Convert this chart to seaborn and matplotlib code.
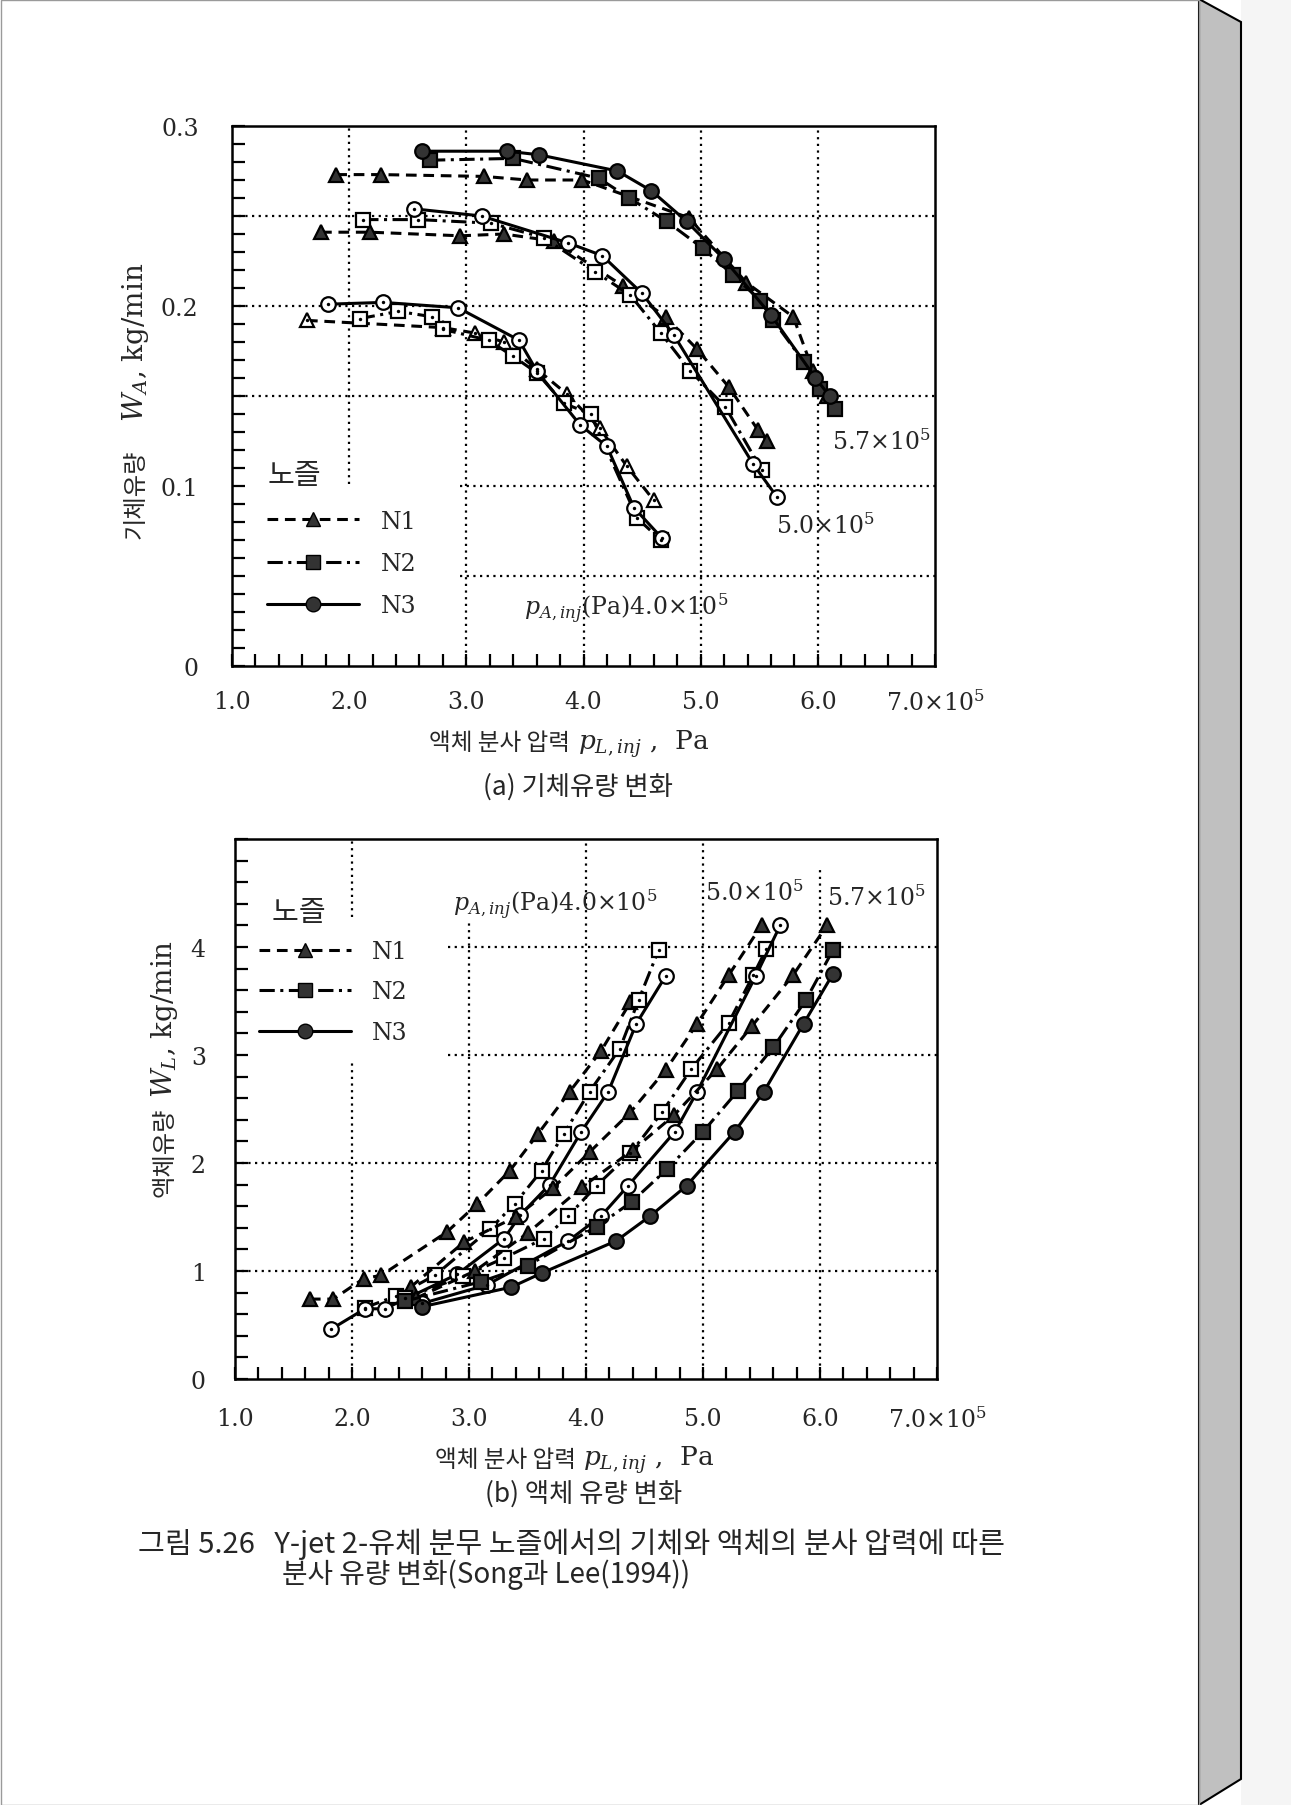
import pandas as pd
import seaborn as sns
import matplotlib.pyplot as plt
from matplotlib.lines import Line2D
from matplotlib.patches import Polygon, Rectangle

sns.set_style("ticks")
plt.rcParams["font.family"] = ["DejaVu Serif", "Noto Sans CJK KR"]
plt.rcParams["mathtext.fontset"] = "dejavuserif"
KR = ["Noto Sans CJK KR", "DejaVu Sans"]

# ---- (a) gas flow rate W_A [kg/min] vs liquid injection pressure [x1e5 Pa]
# p_A,inj = 4.0e5 Pa
a40_n1_x = [1.64, 2.80, 3.07, 3.32, 3.60, 3.86, 4.14, 4.37, 4.60]
a40_n1_y = [0.192, 0.188, 0.185, 0.180, 0.165, 0.151, 0.132, 0.111, 0.092]
a40_n2_x = [2.09, 2.42, 2.71, 2.80, 3.19, 3.40, 3.60, 3.83, 4.06, 4.46, 4.66]
a40_n2_y = [0.193, 0.197, 0.194, 0.187, 0.181, 0.172, 0.163, 0.146, 0.140, 0.082, 0.070]
a40_n3_x = [1.82, 2.29, 2.93, 3.45, 3.60, 3.97, 4.20, 4.43, 4.67]
a40_n3_y = [0.201, 0.202, 0.199, 0.181, 0.164, 0.134, 0.122, 0.088, 0.071]
# p_A,inj = 5.0e5 Pa
a50_n1_x = [1.76, 2.18, 2.95, 3.32, 3.75, 4.34, 4.70, 4.97, 5.24, 5.49, 5.57]
a50_n1_y = [0.241, 0.241, 0.239, 0.240, 0.236, 0.211, 0.194, 0.176, 0.155, 0.131, 0.125]
a50_n2_x = [2.12, 2.59, 3.21, 3.66, 4.10, 4.40, 4.66, 4.91, 5.21, 5.52]
a50_n2_y = [0.248, 0.248, 0.246, 0.238, 0.219, 0.206, 0.185, 0.164, 0.144, 0.109]
a50_n3_x = [2.55, 3.13, 3.87, 4.16, 4.50, 4.77, 5.45, 5.65]
a50_n3_y = [0.254, 0.250, 0.235, 0.228, 0.207, 0.184, 0.112, 0.094]
# p_A,inj = 5.7e5 Pa
a57_n1_x = [1.89, 2.27, 3.15, 3.52, 3.99, 4.90, 5.39, 5.79, 5.96, 6.08]
a57_n1_y = [0.273, 0.273, 0.272, 0.270, 0.270, 0.249, 0.213, 0.194, 0.164, 0.150]
a57_n2_x = [2.69, 3.40, 4.13, 4.39, 4.71, 5.02, 5.28, 5.51, 5.62, 5.88, 6.02, 6.15]
a57_n2_y = [0.281, 0.282, 0.271, 0.260, 0.247, 0.232, 0.217, 0.203, 0.192, 0.169, 0.154, 0.143]
a57_n3_x = [2.62, 3.35, 3.62, 4.29, 4.58, 4.88, 5.20, 5.60, 5.98, 6.10]
a57_n3_y = [0.286, 0.286, 0.284, 0.275, 0.264, 0.247, 0.226, 0.195, 0.160, 0.150]

# ---- (b) liquid flow rate W_L [kg/min]
b40_n1_x = [1.64, 1.84, 2.10, 2.25, 2.81, 3.07, 3.35, 3.59, 3.86, 4.13, 4.38]
b40_n1_y = [0.74, 0.74, 0.93, 0.96, 1.36, 1.62, 1.93, 2.27, 2.66, 3.04, 3.49]
b40_n2_x = [2.11, 2.38, 2.71, 3.18, 3.39, 3.62, 3.81, 4.03, 4.29, 4.45, 4.62]
b40_n2_y = [0.66, 0.77, 0.96, 1.39, 1.62, 1.93, 2.27, 2.66, 3.06, 3.51, 3.97]
b40_n3_x = [1.82, 2.11, 2.28, 2.90, 3.30, 3.44, 3.69, 3.96, 4.19, 4.43, 4.68]
b40_n3_y = [0.46, 0.65, 0.65, 0.97, 1.30, 1.52, 1.80, 2.29, 2.66, 3.29, 3.73]
b50_n1_x = [2.50, 2.96, 3.40, 3.72, 4.03, 4.38, 4.68, 4.95, 5.22, 5.50]
b50_n1_y = [0.85, 1.27, 1.50, 1.77, 2.10, 2.47, 2.86, 3.29, 3.74, 4.20]
b50_n2_x = [2.45, 2.95, 3.30, 3.64, 3.85, 4.09, 4.38, 4.65, 4.90, 5.22, 5.43, 5.54]
b50_n2_y = [0.75, 0.95, 1.12, 1.30, 1.51, 1.79, 2.09, 2.47, 2.87, 3.30, 3.74, 3.98]
b50_n3_x = [2.60, 3.15, 3.85, 4.13, 4.36, 4.76, 4.95, 5.45, 5.66]
b50_n3_y = [0.70, 0.87, 1.28, 1.51, 1.79, 2.29, 2.66, 3.73, 4.20]
b57_n1_x = [2.55, 3.05, 3.50, 3.97, 4.40, 4.75, 5.12, 5.42, 5.77, 6.06]
b57_n1_y = [0.75, 1.00, 1.35, 1.78, 2.12, 2.44, 2.87, 3.27, 3.74, 4.20]
b57_n2_x = [2.45, 3.10, 3.50, 4.09, 4.39, 4.69, 5.00, 5.30, 5.60, 5.88, 6.11]
b57_n2_y = [0.72, 0.90, 1.05, 1.41, 1.64, 1.94, 2.29, 2.67, 3.07, 3.51, 3.97]
b57_n3_x = [2.60, 3.36, 3.62, 4.26, 4.55, 4.86, 5.27, 5.52, 5.86, 6.11]
b57_n3_y = [0.67, 0.85, 0.98, 1.28, 1.51, 1.79, 2.29, 2.66, 3.29, 3.75]

nozzles = ["N1", "N2", "N3"]
x_ticks = [1, 2, 3, 4, 5, 6, 7]
x_labels = ["1.0", "2.0", "3.0", "4.0", "5.0", "6.0", "7.0×10$^5$"]
a_yticks = [0, 0.1, 0.2, 0.3]
a_ylabels = ["0", "0.1", "0.2", "0.3"]
b_yticks = [0, 1, 2, 3, 4]
b_ylabels = ["0", "1", "2", "3", "4"]

# which markers are printed solid (others are open)
a_filled = {"4.0": [False, False, False], "5.0": [True, False, False], "5.7": [True, True, True]}
b_filled = {"4.0": [True, False, False], "5.0": [True, False, False], "5.7": [True, True, True]}

rows = []
for chart, grp, noz, xs, ys in [
    ("a", "4.0", "N1", a40_n1_x, a40_n1_y), ("a", "4.0", "N2", a40_n2_x, a40_n2_y),
    ("a", "4.0", "N3", a40_n3_x, a40_n3_y), ("a", "5.0", "N1", a50_n1_x, a50_n1_y),
    ("a", "5.0", "N2", a50_n2_x, a50_n2_y), ("a", "5.0", "N3", a50_n3_x, a50_n3_y),
    ("a", "5.7", "N1", a57_n1_x, a57_n1_y), ("a", "5.7", "N2", a57_n2_x, a57_n2_y),
    ("a", "5.7", "N3", a57_n3_x, a57_n3_y),
    ("b", "4.0", "N1", b40_n1_x, b40_n1_y), ("b", "4.0", "N2", b40_n2_x, b40_n2_y),
    ("b", "4.0", "N3", b40_n3_x, b40_n3_y), ("b", "5.0", "N1", b50_n1_x, b50_n1_y),
    ("b", "5.0", "N2", b50_n2_x, b50_n2_y), ("b", "5.0", "N3", b50_n3_x, b50_n3_y),
    ("b", "5.7", "N1", b57_n1_x, b57_n1_y), ("b", "5.7", "N2", b57_n2_x, b57_n2_y),
    ("b", "5.7", "N3", b57_n3_x, b57_n3_y),
]:
    for x, y in zip(xs, ys):
        rows.append({"chart": chart, "group": grp, "nozzle": noz, "pL": x, "W": y})
df = pd.DataFrame(rows)

line_styles = {"N1": (0, (3.5, 2.2)), "N2": (0, (5, 1.8, 1, 1.8)), "N3": "-"}
marker_of = {"N1": "^", "N2": "s", "N3": "o"}
DARK = "#333333"
LW = 2.2
MS = 10.5

W, H = 1291, 1806
fig = plt.figure(figsize=(W / 100, H / 100), dpi=100)
fig.patch.set_facecolor("white")

# book page decoration
fig.patches.append(Rectangle((1241 / W, 0), 50 / W, 1, transform=fig.transFigure,
                             facecolor="#f5f5f5", edgecolor="none", zorder=0))
fig.patches.append(Polygon([(1199 / W, 1), (1241 / W, 1 - 23 / H), (1241 / W, 1 - 1780 / H),
                            (1199 / W, 0)], closed=True, transform=fig.transFigure,
                           facecolor="#c0c0c0", edgecolor="black", lw=1.5, zorder=1))
fig.patches.append(Rectangle((0.5 / W, 0.5 / H), 1198 / W, 1 - 1 / H, transform=fig.transFigure,
                             facecolor="none", edgecolor="#9a9a9a", lw=1, zorder=1))


def make_axes(rect, ylim, yticks, ylabels, yminor, ypad, xpad):
    ax = fig.add_axes(rect)
    ax.set_xlim(1, 7)
    ax.set_ylim(*ylim)
    ax.set_xticks(x_ticks)
    ax.set_xticklabels(x_labels)
    ax.set_yticks(yticks)
    ax.set_yticklabels(ylabels)
    ax.xaxis.set_minor_locator(plt.MultipleLocator(0.2))
    ax.yaxis.set_minor_locator(plt.MultipleLocator(yminor))
    ax.tick_params(which="both", direction="in", length=9, width=1.6,
                   top=False, right=False, labelsize=17, color="black")
    ax.tick_params(axis="y", pad=ypad)
    ax.tick_params(axis="x", pad=xpad)
    for s in ax.spines.values():
        s.set_linewidth(1.8)
        s.set_color("black")
    return ax


def draw_grid(ax, vlines, hlines):
    for x, lo, hi in vlines:
        ax.axvline(x, lo, hi, color="black", ls=(0, (1, 2)), lw=1.6, zorder=0.5)
    for y, lo, hi in hlines:
        ax.axhline(y, lo, hi, color="black", ls=(0, (1, 2)), lw=1.6, zorder=0.5)


def draw_series(ax, sub, filled):
    for (grp, noz), d in sub.groupby(["group", "nozzle"]):
        solid = filled[grp][nozzles.index(noz)]
        sns.lineplot(data=d, x="pL", y="W", ax=ax, estimator=None, sort=False,
                     color="black", linestyle=line_styles[noz], lw=LW,
                     marker=marker_of[noz], markersize=MS,
                     markerfacecolor=DARK if solid else "white",
                     markeredgecolor="black", markeredgewidth=1.6,
                     legend=False, zorder=3)
        if not solid:
            sns.scatterplot(data=d, x="pL", y="W", ax=ax, s=6, color="black",
                            linewidth=0, legend=False, zorder=4)
    ax.set_xlabel("")
    ax.set_ylabel("")


def add_legend(ax, anchor, spacing, sep, title):
    handles = [Line2D([], [], color="black", linestyle=line_styles[n], lw=LW,
                      marker=marker_of[n], markersize=MS, markerfacecolor=DARK,
                      markeredgecolor="black") for n in nozzles]
    leg = ax.legend(handles, nozzles, loc="upper left", bbox_to_anchor=anchor,
                    frameon=False, borderpad=0, borderaxespad=0, handlelength=3.9,
                    handletextpad=0.9, labelspacing=spacing,
                    prop={"family": "DejaVu Serif", "size": 17},
                    title=title, title_fontproperties={"family": "Noto Sans CJK KR", "size": 21},
                    alignment="left")
    leg._legend_box.sep = sep


def axis_titles(ax, kr_y, math_y, ylab_x, kr_y_text, math_y_text,
                xlab_y, kr_x_right, math_x_left):
    ax.text(ylab_x, kr_y, kr_y_text, transform=ax.transAxes, rotation=90,
            ha="center", va="center", fontsize=17.5, family=KR)
    ax.text(ylab_x, math_y, math_y_text, transform=ax.transAxes, rotation=90,
            ha="center", va="center", fontsize=20)
    ax.text(kr_x_right, xlab_y, "액체 분사 압력", transform=ax.transAxes,
            ha="right", va="center", fontsize=17, family=KR)
    ax.text(math_x_left, xlab_y, "$p_{L,inj}$ ,  Pa", transform=ax.transAxes,
            ha="left", va="center", fontsize=19)


# ---------------- (a)
ax1 = make_axes([232 / W, 1 - 667 / H, 703 / W, 540 / H], (0, 0.3),
                a_yticks, a_ylabels, 0.01, 24, 17)
draw_grid(ax1,
          [(2, 0.337, 1), (3, 0, 1), (4, 0, 1), (5, 0, 1), (6, 0, 1)],
          [(0.05, 0.324, 1), (0.10, 0.324, 1), (0.15, 0, 1), (0.20, 0, 1), (0.25, 0, 1)])
draw_series(ax1, df[df["chart"] == "a"], a_filled)
add_legend(ax1, (0.05, 0.381), 0.82, 14, "노즐")
ax1.text(6.12, 0.125, "5.7×10$^5$", fontsize=17, va="center", ha="left")
ax1.text(5.64, 0.078, "5.0×10$^5$", fontsize=17, va="center", ha="left")
ax1.text(3.49, 0.032, r"$p_{A,inj}$(Pa)4.0×10$^5$", fontsize=17, va="center", ha="left")
axis_titles(ax1, 0.319, 0.602, -0.137, "기체유량", "$W_A$, kg/min",
            -0.142, 0.481, 0.492)

# ---------------- (b)
ax2 = make_axes([235 / W, 1 - 1380 / H, 702 / W, 540 / H], (0, 5),
                b_yticks, b_ylabels, 0.2, 21, 20)
draw_grid(ax2,
          [(2, 0, 0.59), (2, 0.856, 1), (3, 0, 0.852), (4, 0, 1), (5, 0, 1), (6, 0, 0.948)],
          [(1, 0, 1), (2, 0, 1), (3, 0.303, 1), (4, 0.303, 1)])
draw_series(ax2, df[df["chart"] == "b"], b_filled)
add_legend(ax2, (0.034, 0.892), 0.74, 9, "  노즐")
ax2.text(2.86, 4.40, r"$p_{A,inj}$(Pa)4.0×10$^5$", fontsize=17, va="center", ha="left")
ax2.text(5.02, 4.51, "5.0×10$^5$", fontsize=17, va="center", ha="left")
ax2.text(6.06, 4.46, "5.7×10$^5$", fontsize=17, va="center", ha="left")
axis_titles(ax2, 0.422, 0.669, -0.10, "액체유량", "$W_L$, kg/min",
            -0.149, 0.486, 0.496)

# captions
fig.text(578 / W, 1 - 787 / H, "(a) 기체유량 변화", fontsize=19, ha="center", va="center",
         family=KR)
fig.text(584 / W, 1 - 1494 / H, "(b) 액체 유량 변화", fontsize=19, ha="center", va="center",
         family=KR)
fig.text(138 / W, 1 - 1544 / H,
         "그림 5.26   Y-jet 2-유체 분무 노즐에서의 기체와 액체의 분사 압력에 따른",
         fontsize=21, ha="left", va="center", family=KR)
fig.text(282 / W, 1 - 1575 / H, "분사 유량 변화(Song과 Lee(1994))",
         fontsize=20, ha="left", va="center", family=KR)

fig.savefig("out.png", dpi=100, facecolor="white")
